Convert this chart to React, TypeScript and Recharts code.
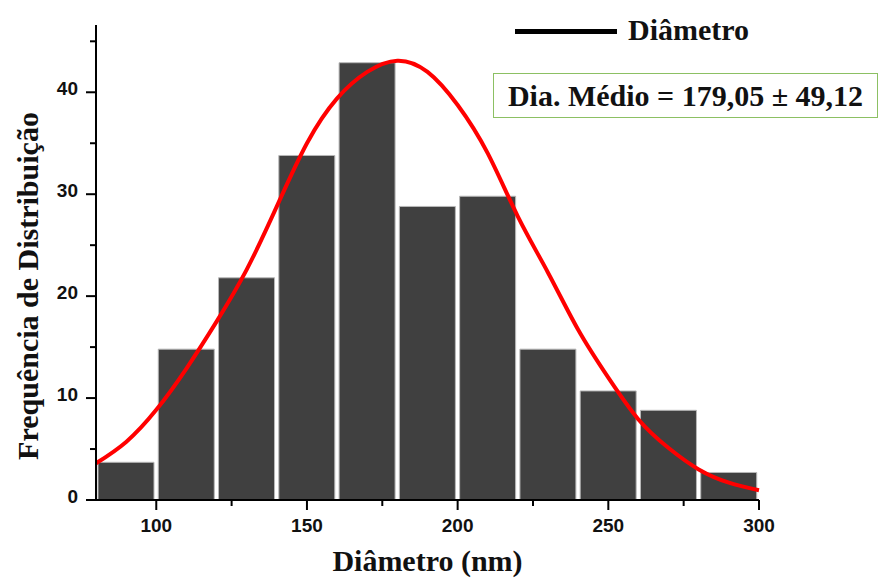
// Histogram of particle diameters with a fitted normal curve.
import { ComposedChart, Bar, Line, XAxis, YAxis } from "recharts";

const BIN_CENTERS = [90, 110, 130, 150, 170, 190, 210, 230, 250, 270, 290];
const COUNTS = [3.7, 14.8, 21.8, 33.8, 42.9, 28.8, 29.8, 14.8, 10.7, 8.8, 2.7];

const FIT_X = [80, 90, 100, 110, 120, 130, 140, 150, 160, 170, 180, 190, 200, 210, 220, 230, 240, 250, 260, 270, 280, 290, 300];
const FIT_Y = [3.6, 5.7, 8.85, 12.9, 17.5, 22.6, 28.8, 35.0, 39.4, 42.0, 43.1, 42.0, 38.75, 34.0, 27.8, 22.3, 16.7, 12.0, 7.9, 5.1, 3.0, 1.7, 0.95];

const X_TICKS = [100, 125, 150, 175, 200, 225, 250, 275, 300];
const X_LABELED = [100, 150, 200, 250, 300];
const Y_TICKS = [0, 5, 10, 15, 20, 25, 30, 35, 40, 45];
const Y_LABELED = [0, 10, 20, 30, 40];

const SERIF = "'Liberation Serif', 'Times New Roman', serif";
const SANS = "'Liberation Sans', Arial, sans-serif";

const bins = BIN_CENTERS.map((x, i) => ({ x, count: COUNTS[i] }));
const fit = FIT_X.map((x, i) => ({ x, fit: FIT_Y[i] }));

function XTick({ x, y, payload }: any) {
  const major = X_LABELED.includes(payload.value);
  return (
    <g>
      <line x1={x} x2={x} y1={y} y2={y + (major ? 10 : 6)} stroke="#000" strokeWidth={2} />
      {major && (
        <text x={x} y={y + 32} textAnchor="middle" fontFamily={SANS} fontWeight="bold" fontSize={19} fill="#111">
          {payload.value}
        </text>
      )}
    </g>
  );
}

function YTick({ x, y, payload }: any) {
  const major = Y_LABELED.includes(payload.value);
  return (
    <g>
      <line x1={x} x2={x - (major ? 10 : 6)} y1={y} y2={y} stroke="#000" strokeWidth={2} />
      {major && (
        <text x={x - 18} y={y + 3} textAnchor="end" fontFamily={SANS} fontWeight="bold" fontSize={19} fill="#111">
          {payload.value}
        </text>
      )}
    </g>
  );
}

export default function App() {
  return (
    <div style={{ position: "absolute", left: 0, top: 0, width: 885, height: 579, background: "#fff" }}>
      <ComposedChart width={885} height={579} data={bins} margin={{ top: 25, right: 126, bottom: 0, left: 0 }}>
        <XAxis
          xAxisId="bins"
          dataKey="x"
          type="number"
          domain={[80, 300]}
          ticks={X_TICKS}
          tick={<XTick />}
          tickLine={false}
          tickSize={0}
          tickMargin={0}
          height={79}
          axisLine={{ stroke: "#000", strokeWidth: 2 }}
          label={{
            value: "Diâmetro (nm)",
            position: "insideBottom",
            offset: 8,
            style: { fontFamily: SERIF, fontWeight: "bold", fontSize: 30, fill: "#111" },
          }}
        />
        <XAxis xAxisId="fit" dataKey="x" type="number" domain={[80, 300]} hide />
        <YAxis
          type="number"
          domain={[0, 46.6]}
          ticks={Y_TICKS}
          tick={<YTick />}
          tickLine={false}
          tickSize={0}
          tickMargin={0}
          width={96}
          axisLine={{ stroke: "#000", strokeWidth: 2 }}
        />
        <Bar xAxisId="bins" dataKey="count" barSize={56} fill="#404040" stroke="#b8b8b8" strokeWidth={1} isAnimationActive={false} />
        <Line xAxisId="fit" data={fit} dataKey="fit" type="natural" stroke="#ff0000" strokeWidth={4} dot={false} activeDot={false} isAnimationActive={false} />
      </ComposedChart>

      <div
        style={{
          position: "absolute",
          left: 28,
          top: 286,
          transform: "translate(-50%, -50%) rotate(-90deg)",
          whiteSpace: "nowrap",
          fontFamily: SERIF,
          fontWeight: "bold",
          fontSize: 30,
          lineHeight: "30px",
          color: "#111",
        }}
      >
        Frequência de Distribuição
      </div>

      <div style={{ position: "absolute", left: 515, top: 29, width: 102, height: 5, background: "#000" }} />
      <div
        style={{
          position: "absolute",
          left: 628,
          top: 15,
          fontFamily: SERIF,
          fontWeight: "bold",
          fontSize: 30,
          lineHeight: "30px",
          color: "#111",
          whiteSpace: "nowrap",
        }}
      >
        Diâmetro
      </div>

      <div
        style={{
          position: "absolute",
          left: 493,
          top: 73,
          width: 385,
          height: 45,
          border: "1.5px solid #8cc063",
          background: "#fff",
          boxSizing: "border-box",
          display: "flex",
          alignItems: "center",
          justifyContent: "center",
          fontFamily: SERIF,
          fontWeight: "bold",
          fontSize: 30,
          color: "#111",
          whiteSpace: "nowrap",
        }}
      >
        Dia. Médio = 179,05 ± 49,12
      </div>
    </div>
  );
}
